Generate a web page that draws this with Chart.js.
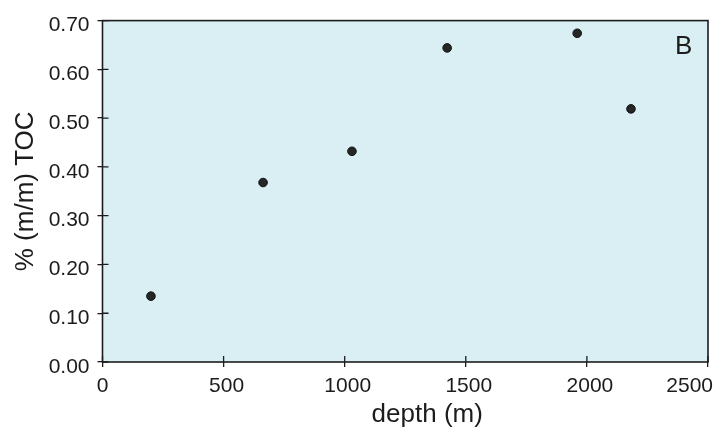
<!DOCTYPE html>
<html>
<head>
<meta charset="utf-8">
<script src="https://cdn.jsdelivr.net/npm/chart.js@4"></script>
<style>
html, body { margin: 0; padding: 0; background: #fff; }
</style>
</head>
<body>
<canvas id="chart" width="721" height="430"></canvas>
<script>
let depth = [200, 663, 1030, 1423, 1960, 2182];
let toc = [0.135, 0.368, 0.432, 0.644, 0.674, 0.519];
let xTicks = [0, 500, 1000, 1500, 2000, 2500];
let yTicks = [0, 0.1, 0.2, 0.3, 0.4, 0.5, 0.6, 0.7];
let xTitle = "depth (m)";
let yTitle = "% (m/m) TOC";
let panelLabel = "B";

let fontFamily = "'Liberation Sans', Arial, Helvetica, sans-serif";
let ink = "#1c1c1c";
let panelFill = "#d9eff4";

// background, frame, inner tick marks and the texts
let framePlugin = {
	id: "frame",
	beforeDraw(chart){
		let a = chart.chartArea;
		let ctx = chart.ctx;
		ctx.save();
		ctx.fillStyle = panelFill;
		ctx.fillRect(a.left, a.top, a.right - a.left, a.bottom - a.top);
		ctx.restore();
	},
	afterDraw(chart){
		let a = chart.chartArea;
		let ctx = chart.ctx;
		let xs = chart.scales.x;
		let ys = chart.scales.y;
		ctx.save();
		ctx.strokeStyle = ink;
		ctx.lineWidth = 1.6;
		ctx.strokeRect(a.left, a.top, a.right - a.left, a.bottom - a.top);

		// ticks also reach a few px into the plot
		ctx.lineWidth = 1.3;
		ctx.beginPath();
		for(let i = 0; i < xTicks.length; i++){
			let px = xs.getPixelForValue(xTicks[i]);
			ctx.moveTo(px, a.bottom);
			ctx.lineTo(px, a.bottom - 6);
		}
		for(let i = 0; i < yTicks.length; i++){
			let py = ys.getPixelForValue(yTicks[i]);
			ctx.moveTo(a.left, py);
			ctx.lineTo(a.left + 6, py);
		}
		ctx.stroke();

		ctx.fillStyle = ink;
		ctx.font = "21px " + fontFamily;
		ctx.textAlign = "center";
		ctx.textBaseline = "alphabetic";
		for(let i = 0; i < xTicks.length; i++){
			let px = xs.getPixelForValue(xTicks[i]) + (i == 0 ? 0 : 3);
			let text = String(xTicks[i]);
			let half = ctx.measureText(text).width / 2;
			if(px + half > chart.width - 8)px = chart.width - 8 - half;
			ctx.fillText(text, px, a.bottom + 30);
		}

		ctx.font = "26px " + fontFamily;
		ctx.fillText(xTitle, (a.left + a.right) / 2 + 22, 422);

		ctx.save();
		ctx.translate(33, (a.top + a.bottom) / 2);
		ctx.rotate(-Math.PI / 2);
		ctx.fillText(yTitle, 0, 0);
		ctx.restore();

		ctx.font = "26px " + fontFamily;
		ctx.textAlign = "left";
		ctx.fillText(panelLabel, a.right - 33, a.top + 33);
		ctx.restore();
	}
};

let ctx = document.getElementById("chart").getContext("2d");
let chart = new Chart(ctx, {
	type: "scatter",
	data: {
		datasets: [{
			label: "TOC",
			data: depth.map((d, i) => ({x: d, y: toc[i]})),
			backgroundColor: "#262626",
			borderColor: "#111",
			borderWidth: 1,
			pointRadius: 4.3,
			pointHoverRadius: 4.3
		}]
	},
	options: {
		responsive: false,
		animation: false,
		layout: {padding: {top: 12, right: 13, left: 0, bottom: 0}},
		plugins: {
			legend: {display: false},
			tooltip: {enabled: false}
		},
		scales: {
			x: {
				type: "linear",
				min: 0,
				max: 2500,
				afterBuildTicks: scale => { scale.ticks = xTicks.map(v => ({value: v})); },
				afterFit: scale => { scale.height = 68; },
				ticks: {display: false},
				border: {display: false},
				grid: {drawOnChartArea: false, drawTicks: true, tickLength: 5, color: ink, lineWidth: 1.3}
			},
			y: {
				min: 0,
				max: 0.7,
				afterBuildTicks: scale => { scale.ticks = yTicks.map(v => ({value: v})); },
				afterFit: scale => { scale.width = 102.5; },
				ticks: {
					color: ink,
					padding: 8,
					labelOffset: 5,
					font: {family: fontFamily, size: 21},
					callback: v => v.toFixed(2)
				},
				border: {display: false},
				grid: {drawOnChartArea: false, drawTicks: true, tickLength: 5, color: ink, lineWidth: 1.3}
			}
		}
	},
	plugins: [framePlugin]
});
</script>
</body>
</html>
